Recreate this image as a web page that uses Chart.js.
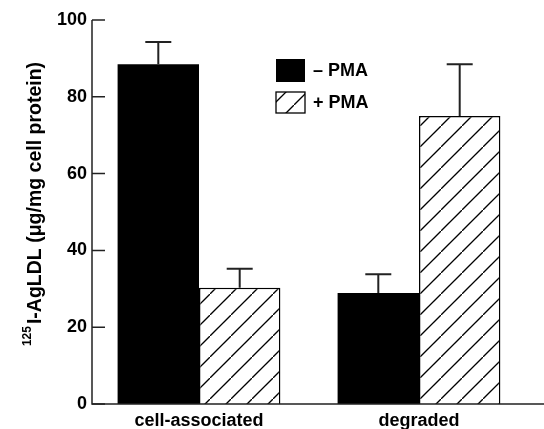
<!DOCTYPE html>
<html>
<head>
<meta charset="utf-8">
<script src="https://cdn.jsdelivr.net/npm/chart.js@4/dist/chart.umd.min.js"></script>
<style>
  html, body { margin: 0; padding: 0; background: #fff; }
  #wrap { width: 544px; height: 429px; }
</style>
</head>
<body>
<div id="wrap"><canvas id="chart"></canvas></div>
<script>
const categories = ['cell-associated', 'degraded'];
const seriesLabels = ['\u2013 PMA', '+ PMA'];
const minusPMA = [88.5, 28.9];
const minusPMAErr = [5.8, 4.9];
const plusPMA = [30.3, 75.0];
const plusPMAErr = [4.9, 13.5];
const yTicks = [0, 20, 40, 60, 80, 100];

const FONT = "'Liberation Sans', Arial, Helvetica, sans-serif";

function hatchPattern() {
  const size = 21;
  const c = document.createElement('canvas');
  c.width = size;
  c.height = size;
  const g = c.getContext('2d');
  g.fillStyle = '#fff';
  g.fillRect(0, 0, size, size);
  g.strokeStyle = '#000';
  g.lineWidth = 1.3;
  g.beginPath();
  g.moveTo(-2, size + 2);
  g.lineTo(size + 2, -2);
  g.stroke();
  return g.createPattern(c, 'repeat');
}
const hatch = hatchPattern();

const errorBars = {
  id: 'errorBars',
  afterDatasetsDraw(chart) {
    const { ctx } = chart;
    const y = chart.scales.y;
    ctx.save();
    ctx.strokeStyle = '#222';
    ctx.lineWidth = 2;
    chart.data.datasets.forEach((ds, i) => {
      chart.getDatasetMeta(i).data.forEach((bar, j) => {
        const top = y.getPixelForValue(ds.data[j] + ds.errors[j]);
        ctx.beginPath();
        ctx.moveTo(bar.x, bar.y);
        ctx.lineTo(bar.x, top);
        ctx.moveTo(bar.x - 13, top);
        ctx.lineTo(bar.x + 13, top);
        ctx.stroke();
      });
    });
    ctx.restore();
  }
};

const axesAndLabels = {
  id: 'axesAndLabels',
  afterDraw(chart) {
    const { ctx, chartArea } = chart;
    const y = chart.scales.y;
    const axisX = chartArea.left + 3;
    ctx.save();
    ctx.strokeStyle = '#222';
    ctx.lineWidth = 1.5;
    // axes
    ctx.beginPath();
    ctx.moveTo(axisX, y.getPixelForValue(100));
    ctx.lineTo(axisX, chartArea.bottom);
    ctx.lineTo(chart.width, chartArea.bottom);
    ctx.stroke();
    // inward ticks
    ctx.beginPath();
    y.ticks.forEach((t, k) => {
      const py = y.getPixelForTick(k);
      ctx.moveTo(axisX, py);
      ctx.lineTo(axisX + 13, py);
    });
    ctx.stroke();

    // legend
    const items = chart.data.datasets;
    const boxes = [[276, 59, 29, 23], [276, 92, 29, 21]];
    ctx.font = 'bold 18px ' + FONT;
    ctx.textBaseline = 'middle';
    ctx.textAlign = 'left';
    items.forEach((ds, i) => {
      const [bx, by, bw, bh] = boxes[i];
      ctx.fillStyle = ds.backgroundColor;
      ctx.fillRect(bx, by, bw, bh);
      if (ds.borderWidth) {
        ctx.lineWidth = 1.3;
        ctx.strokeStyle = '#000';
        ctx.strokeRect(bx, by, bw, bh);
      }
      ctx.fillStyle = '#000';
      ctx.fillText(ds.label, bx + bw + 8, by + bh / 2 + 1);
    });

    // y title with superscript
    const sup = '125';
    const main = 'I-AgLDL (\u03bcg/mg cell protein)';
    ctx.translate(41, 204);
    ctx.rotate(-Math.PI / 2);
    ctx.textBaseline = 'alphabetic';
    ctx.font = 'bold 12px ' + FONT;
    const ws = ctx.measureText(sup).width + 2;
    ctx.font = 'bold 19.5px ' + FONT;
    const wm = ctx.measureText(main).width;
    const x0 = -(ws + wm) / 2;
    ctx.fillStyle = '#000';
    ctx.font = 'bold 12px ' + FONT;
    ctx.fillText(sup, x0, -10);
    ctx.font = 'bold 19.5px ' + FONT;
    ctx.fillText(main, x0 + ws, 0);
    ctx.restore();
  }
};

new Chart(document.getElementById('chart'), {
  type: 'bar',
  data: {
    labels: categories,
    datasets: [
      {
        label: seriesLabels[0],
        data: minusPMA,
        errors: minusPMAErr,
        backgroundColor: '#000',
        borderWidth: 0
      },
      {
        label: seriesLabels[1],
        data: plusPMA,
        errors: plusPMAErr,
        backgroundColor: hatch,
        borderColor: '#000',
        borderWidth: 1.5
      }
    ]
  },
  options: {
    responsive: true,
    maintainAspectRatio: false,
    animation: false,
    devicePixelRatio: 1,
    layout: { padding: { top: 20, right: 15, left: 0, bottom: 0 } },
    datasets: { bar: { barPercentage: 1, categoryPercentage: 0.74 } },
    plugins: { legend: { display: false }, tooltip: { enabled: false } },
    scales: {
      x: {
        grid: { display: false, drawTicks: false },
        border: { display: false },
        ticks: { color: '#000', font: { family: FONT, size: 18, weight: 'bold' }, padding: 6 },
        afterFit(scale) { scale.height = 25; }
      },
      y: {
        min: 0,
        max: 100,
        afterBuildTicks(scale) { scale.ticks = yTicks.map(v => ({ value: v })); },
        grid: { display: false, drawTicks: false },
        border: { display: false },
        ticks: { color: '#000', font: { family: FONT, size: 18, weight: 'bold' }, padding: 2 },
        afterFit(scale) { scale.width = 89; }
      }
    }
  },
  plugins: [errorBars, axesAndLabels]
});
</script>
</body>
</html>
